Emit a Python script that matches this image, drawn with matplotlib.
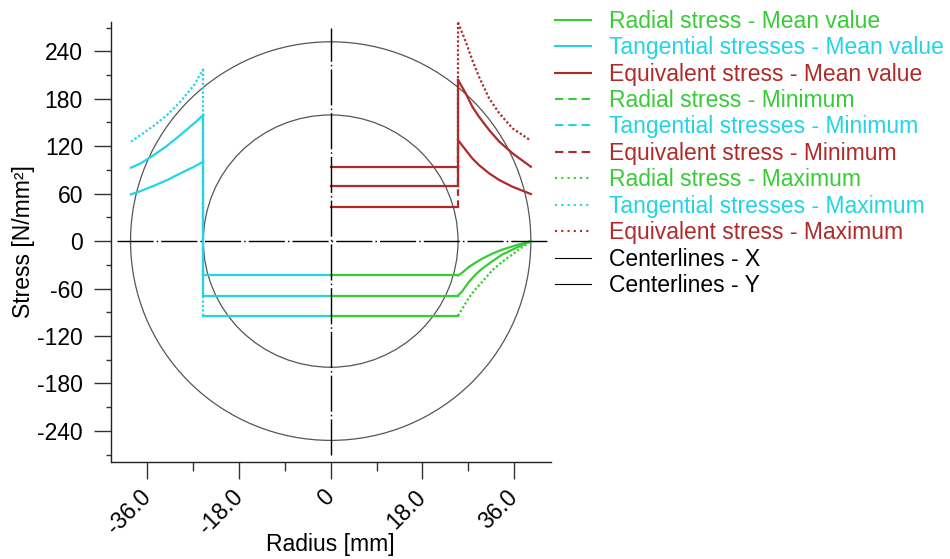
import matplotlib
matplotlib.use("Agg")
import matplotlib.pyplot as plt
from matplotlib.patches import Ellipse
from matplotlib.lines import Line2D
from matplotlib.ticker import MultipleLocator

plt.rcParams['font.family'] = ['Liberation Sans', 'DejaVu Sans']
plt.rcParams['font.size'] = 16.5
plt.rcParams['axes.unicode_minus'] = False

# geometry [mm]
r_joint = 25.0
r_outer = 39.3

# tangential stresses, hub side (drawn at negative radius)
tang_x = [-39.2, -37.3, -34.7, -32.1, -29.5, -26.8, -25.0]
tang_mean = [92.8, 98.3, 108.9, 120.7, 134.2, 149.0, 159.5]
tang_min = [59.1, 63.3, 70.0, 77.2, 85.7, 94.1, 100.4]
tang_max = [125.7, 134.2, 146.0, 159.5, 176.3, 197.5, 217.7]

# stress in the shaft (constant, same for radial and tangential)
shaft_mean = -69.0
shaft_min = -43.5
shaft_max = -94.5

# radial stress, hub side
rad_x = [25.0, 25.8, 27.1, 28.4, 29.7, 31.7, 33.6, 36.3, 39.3]
rad_mean = [-69.0, -63.7, -51.9, -42.6, -35.0, -25.7, -17.3, -8.9, 0.0]
rad_min = [-43.5, -40.1, -32.9, -27.4, -22.4, -16.0, -11.0, -5.5, 0.0]
rad_max = [-94.5, -86.0, -72.0, -61.0, -51.9, -37.1, -26.6, -13.9, 0.0]

# equivalent stress
eq_x = [25.0, 26.5, 27.8, 29.1, 31.1, 33.1, 35.7, 39.3]
eq_mean = [203.8, 187.0, 170.0, 157.4, 140.5, 125.7, 111.0, 94.0]
eq_min = [127.8, 115.2, 104.6, 96.2, 85.7, 77.2, 68.7, 59.5]
eq_max = [276.4, 252.3, 229.0, 208.0, 180.6, 161.6, 142.6, 127.0]
eq_shaft_mean = 69.6
eq_shaft_min = 43.4
eq_shaft_max = 94.0

x_ticks = [-36, -18, 0, 18, 36]
x_ticklabels = ['-36.0', '-18.0', '0', '18.0', '36.0']

green = '#36cc36'
cyan = '#22d4e4'
red = '#b02a2a'

dotted = (0, (1, 1))
dashed_jump = (0, (3, 2))
lw = 1.6

fig = plt.figure(figsize=(9.5, 5.59), dpi=100)
ax = fig.add_axes([0.1165, 0.174, 0.4632, 0.7866])

# part outline in the background
ax.add_patch(Ellipse((0, 0), 2 * r_outer, 2 * 252, fill=False, ec='#555555', lw=0.9))
ax.add_patch(Ellipse((0, 0), 2 * r_joint, 2 * 159.5, fill=False, ec='#555555', lw=0.9))


def draw_series(x_curve, y_curve, x_joint, shaft_val, color, jump_ls, curve_ls):
    # flat part in the shaft, jump at the joint, curve in the hub
    ax.plot([0, x_joint], [shaft_val, shaft_val], color=color, lw=lw)
    ax.plot([x_joint, x_joint], [shaft_val, y_curve[-1] if x_joint < 0 else y_curve[0]],
            color=color, lw=lw, ls=jump_ls)
    ax.plot(x_curve, y_curve, color=color, lw=lw, ls=curve_ls)


# tangential (left)
draw_series(tang_x, tang_mean, -r_joint, shaft_mean, cyan, '-', '-')
draw_series(tang_x, tang_min, -r_joint, shaft_min, cyan, dashed_jump, '-')
draw_series(tang_x, tang_max, -r_joint, shaft_max, cyan, dotted, dotted)

# radial (right, bottom)
draw_series(rad_x, rad_mean, r_joint, shaft_mean, green, '-', '-')
draw_series(rad_x, rad_min, r_joint, shaft_min, green, dashed_jump, '-')
draw_series(rad_x, rad_max, r_joint, shaft_max, green, dotted, dotted)

# equivalent (right, top)
draw_series(eq_x, eq_mean, r_joint, eq_shaft_mean, red, '-', '-')
draw_series(eq_x, eq_min, r_joint, eq_shaft_min, red, dashed_jump, '-')
draw_series(eq_x, eq_max, r_joint, eq_shaft_max, red, dotted, dotted)

# centerlines
center_ls = (0, (26, 2.2, 1.1, 2.2))
ax.plot([-42.0, 42.6], [0, 0], color='black', lw=1.0, ls=center_ls)
ax.plot([0, 0], [-270, 270], color='black', lw=1.0, ls=center_ls)

ax.set_xlim(-43.2, 43.2)
ax.set_ylim(-279, 277)
for side in ['top', 'right']:
    ax.spines[side].set_visible(False)
for side in ['left', 'bottom']:
    ax.spines[side].set_linewidth(1.0)
    ax.spines[side].set_color('#222222')

ax.set_xticks(x_ticks)
ax.set_xticklabels(x_ticklabels)
ax.xaxis.set_minor_locator(MultipleLocator(9))
ax.yaxis.set_major_locator(MultipleLocator(60))
ax.yaxis.set_minor_locator(MultipleLocator(30))
ax.tick_params(which='major', length=12.5, width=1.0, color='#333333')
ax.tick_params(axis='y', which='minor', length=3.4, width=1.0, color='#333333')
ax.tick_params(axis='x', which='minor', length=6.5, width=1.0, color='#333333')
ax.tick_params(axis='y', which='major', pad=7.5)
ax.tick_params(axis='x', which='major', pad=10.5)
for lab in ax.get_xticklabels():
    lab.set_rotation(45)
    lab.set_rotation_mode('anchor')
    lab.set_ha('right')
    lab.set_va('center')

ax.set_xlabel('Radius [mm]')
ax.set_ylabel('Stress [N/mm²]')
ax.xaxis.set_label_coords(0.5, -0.162)
ax.yaxis.set_label_coords(-0.172, 0.5)

dashed = (0, (4, 2.4))
dots = (0, (1, 2))
handles = [
    Line2D([], [], color=green, lw=1.5),
    Line2D([], [], color=cyan, lw=1.5),
    Line2D([], [], color=red, lw=1.5),
    Line2D([], [], color=green, lw=1.5, ls=dashed),
    Line2D([], [], color=cyan, lw=1.5, ls=dashed),
    Line2D([], [], color=red, lw=1.5, ls=dashed),
    Line2D([], [], color=green, lw=1.5, ls=dots),
    Line2D([], [], color=cyan, lw=1.5, ls=dots),
    Line2D([], [], color=red, lw=1.5, ls=dots),
    Line2D([], [], color='black', lw=0.8),
    Line2D([], [], color='black', lw=0.8),
]
labels = [
    'Radial stress - Mean value',
    'Tangential stresses - Mean value',
    'Equivalent stress - Mean value',
    'Radial stress - Minimum',
    'Tangential stresses - Minimum',
    'Equivalent stress - Minimum',
    'Radial stress - Maximum',
    'Tangential stresses - Maximum',
    'Equivalent stress - Maximum',
    'Centerlines - X',
    'Centerlines - Y',
]
fig.legend(handles, labels, loc='upper left', bbox_to_anchor=(0.5842, 0.9826),
           frameon=False, borderpad=0, borderaxespad=0, handlelength=1.56,
           handletextpad=0.81, labelspacing=0.15, labelcolor='linecolor', fontsize=16.5)

fig.savefig('out.png', dpi=100)
